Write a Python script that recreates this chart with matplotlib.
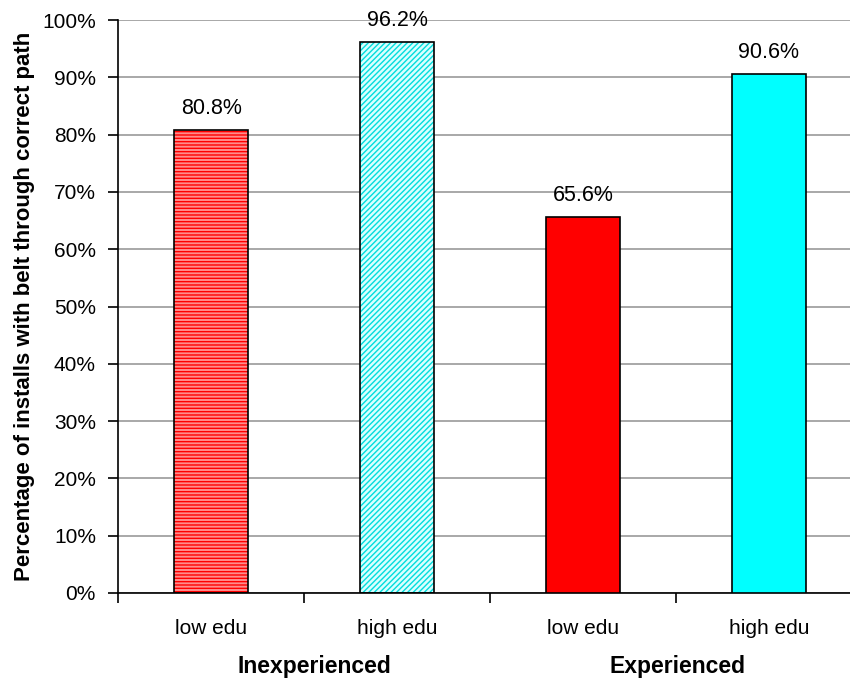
import matplotlib.pyplot as plt
import numpy as np

plt.rcParams['font.family'] = ['Liberation Sans', 'DejaVu Sans']

cats = ['low edu', 'high edu', 'low edu', 'high edu']
groups = ['Inexperienced', 'Experienced']
vals = [80.8, 96.2, 65.6, 90.6]
faces = ['#ff8c8c', '#d8ffff', '#ff0000', '#00ffff']
hatch_cols = ['#ff0000', '#00dddd', None, None]
hatches = ['-----', '//////', None, None]

fig = plt.figure(figsize=(8.5, 6.79), dpi=100)
ax = fig.add_axes([0.139, 0.1267, 0.875, 0.8438])

x = np.arange(len(vals))
w = 0.40
for i in range(len(vals)):
    if hatches[i]:
        ax.bar(x[i], vals[i], w, color=faces[i], edgecolor=hatch_cols[i], hatch=hatches[i], lw=0, zorder=2)
        ax.bar(x[i], vals[i], w, fill=False, edgecolor='black', lw=1.2, zorder=3)
    else:
        ax.bar(x[i], vals[i], w, color=faces[i], edgecolor='black', lw=1.2, zorder=3)
    ax.text(x[i], vals[i] + 2.8, '%.1f%%' % vals[i], ha='center', va='baseline', fontsize=15.5)

ax.set_xlim(-0.5, 3.5)
ax.set_ylim(0, 100)
ax.set_yticks(np.arange(0, 101, 10))
ax.set_yticklabels(['%d%%' % v for v in range(0, 101, 10)], fontsize=15)
ax.yaxis.grid(True, color='#999999', lw=1.2, zorder=0)
ax.set_axisbelow(True)

ax.set_xticks(np.arange(-0.5, 3.5, 1))
ax.set_xticklabels([])
ax.tick_params(axis='x', length=7, width=1.2, direction='out')
ax.tick_params(axis='y', length=7, width=1.2, direction='out', pad=9)
for s in ['left', 'bottom']:
    ax.spines[s].set_linewidth(1.2)
for i, c in enumerate(cats):
    ax.text(x[i], -7.16, c, ha='center', va='baseline', fontsize=15)
# group labels under each pair of bars
ax.text(0.555, -13.96, groups[0], ha='center', va='baseline', fontsize=16.5, fontweight='bold')
ax.text(2.51, -13.96, groups[1], ha='center', va='baseline', fontsize=16.5, fontweight='bold')

ax.spines['top'].set_visible(False)
ax.spines['right'].set_visible(False)
fig.text(25 / 850, 1 - 306 / 679, 'Percentage of installs with belt through correct path',
         rotation=90, ha='center', va='center', fontsize=16, fontweight='bold')

fig.savefig('out.png', dpi=100)
